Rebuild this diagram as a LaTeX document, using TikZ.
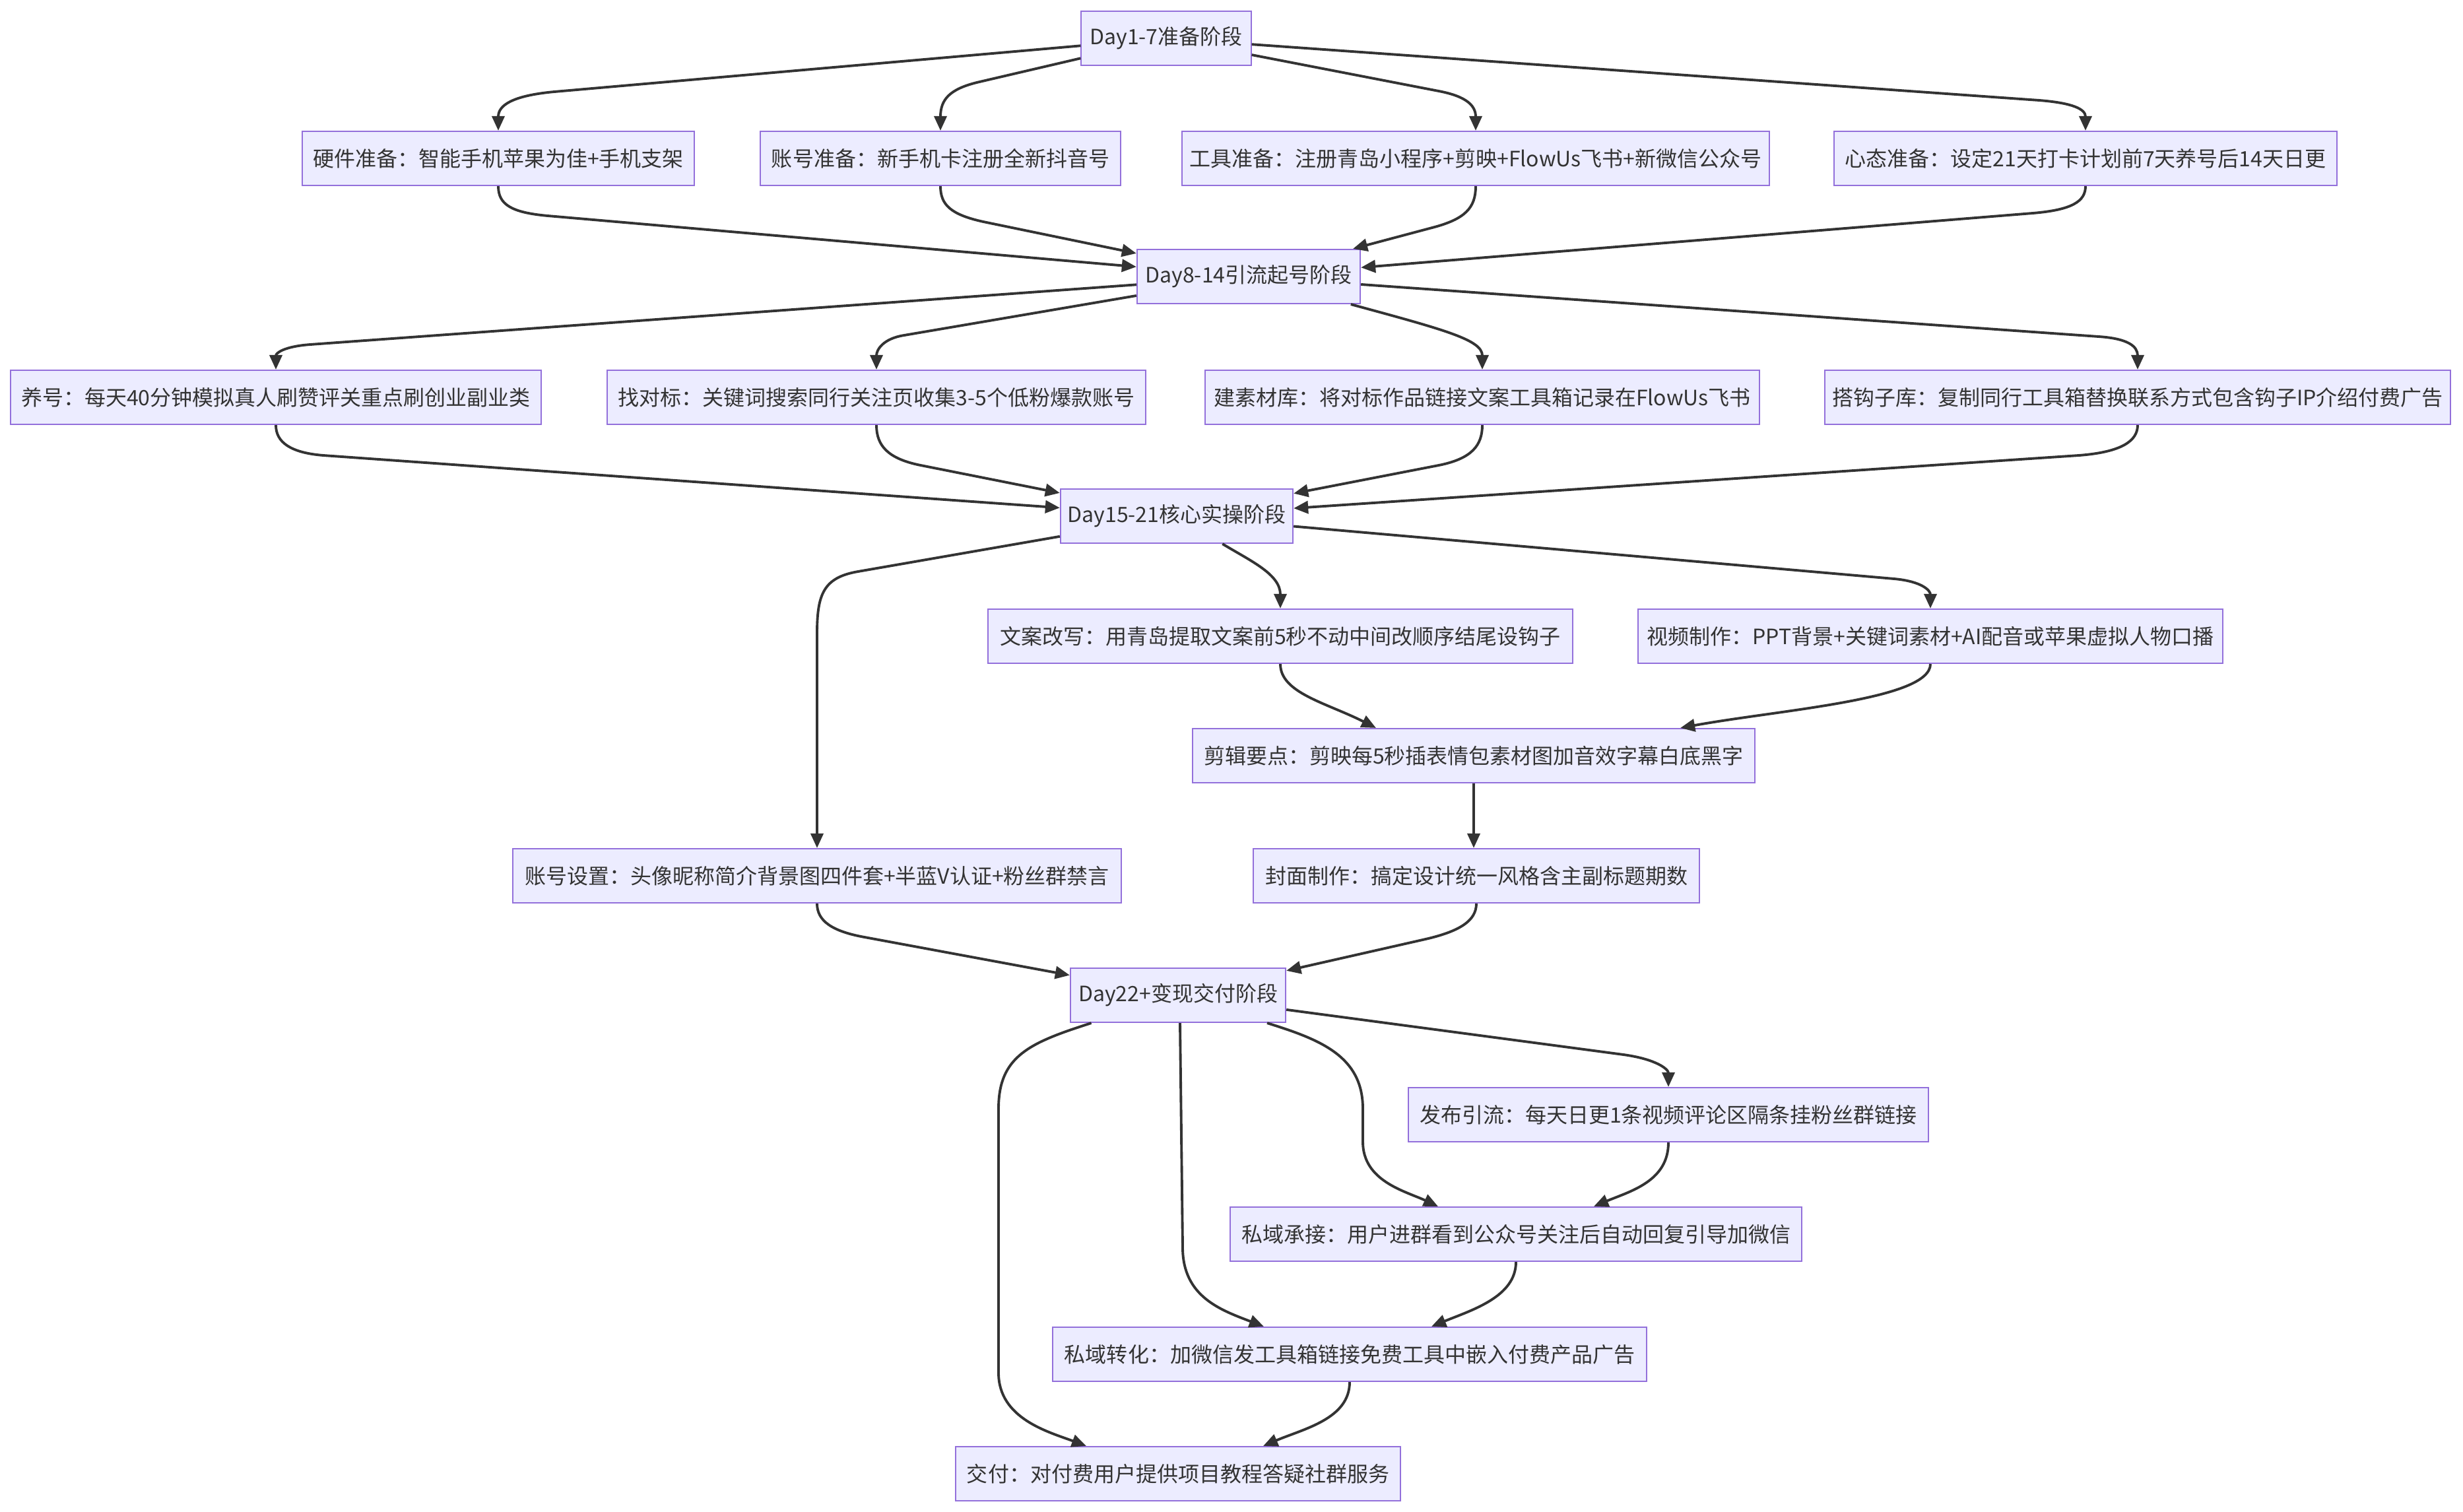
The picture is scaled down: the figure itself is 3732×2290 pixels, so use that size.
\documentclass[tikz,border=0pt]{standalone}
\usepackage{fontspec}
\setmainfont{Noto Sans CJK SC}
\usetikzlibrary{arrows.meta}
\definecolor{nodefill}{HTML}{ECECFF}
\definecolor{nodeborder}{HTML}{9370DB}
\definecolor{linec}{HTML}{333333}
\begin{document}
\begin{tikzpicture}[x=0.01cm,y=-0.01cm,
  box/.style={draw=nodeborder, fill=nodefill, line width=0.6pt, minimum height=0.82cm,
    inner xsep=0.1cm, inner ysep=0pt, text=linec, font=\fontsize{9.1}{11}\selectfont, anchor=center},
  edge/.style={draw=linec, line width=1.1pt, -{Triangle[length=0.22cm,width=0.19cm]}}]
\fill[white] (0,0) rectangle (3732,2290);
\useasboundingbox (0,0) rectangle (3732,2290);

% nodes
\node[box, minimum width=2.57cm] (d1) at (1767,58) {Day1-7准备阶段};
\node[box, minimum width=5.94cm] (hw) at (755,240) {硬件准备：智能手机苹果为佳+手机支架};
\node[box, minimum width=5.45cm] (acc) at (1425,240) {账号准备：新手机卡注册全新抖音号};
\node[box, minimum width=8.89cm] (tool) at (2236,240) {工具准备：注册青岛小程序+剪映+FlowUs飞书+新微信公众号};
\node[box, minimum width=7.61cm] (mind) at (3160,240) {心态准备：设定21天打卡计划前7天养号后14天日更};
\node[box, minimum width=3.38cm] (d2) at (1892,419) {Day8-14引流起号阶段};
\node[box, minimum width=8.03cm] (yang) at (418,602) {养号：每天40分钟模拟真人刷赞评关重点刷创业副业类};
\node[box, minimum width=8.16cm] (dui) at (1328,602) {找对标：关键词搜索同行关注页收集3-5个低粉爆款账号};
\node[box, minimum width=8.40cm] (jian) at (2246,602) {建素材库：将对标作品链接文案工具箱记录在FlowUs飞书};
\node[box, minimum width=9.48cm] (gou) at (3239,602) {搭钩子库：复制同行工具箱替换联系方式包含钩子IP介绍付费广告};
\node[box, minimum width=3.52cm] (d3) at (1783,782) {Day15-21核心实操阶段};
\node[box, minimum width=8.85cm] (wa) at (1940,964) {文案改写：用青岛提取文案前5秒不动中间改顺序结尾设钩子};
\node[box, minimum width=8.86cm] (sp) at (2925,964) {视频制作：PPT背景+关键词素材+AI配音或苹果虚拟人物口播};
\node[box, minimum width=8.51cm] (jj) at (2233,1145) {剪辑要点：剪映每5秒插表情包素材图加音效字幕白底黑字};
\node[box, minimum width=9.21cm] (zhsz) at (1238,1327) {账号设置：头像昵称简介背景图四件套+半蓝V认证+粉丝群禁言};
\node[box, minimum width=6.75cm] (fm) at (2237,1327) {封面制作：搞定设计统一风格含主副标题期数};
\node[box, minimum width=3.26cm] (d4) at (1785,1508) {Day22+变现交付阶段};
\node[box, minimum width=7.88cm] (fb) at (2528,1689) {发布引流：每天日更1条视频评论区隔条挂粉丝群链接};
\node[box, minimum width=8.66cm] (sycj) at (2297,1870) {私域承接：用户进群看到公众号关注后自动回复引导加微信};
\node[box, minimum width=8.99cm] (syzh) at (2045,2052) {私域转化：加微信发工具箱链接免费工具中嵌入付费产品广告};
\node[box, minimum width=6.74cm] (jf) at (1785,2233) {交付：对付费用户提供项目教程答疑社群服务};

% edges: stage 1
\draw[edge] (d1) -- (840,139) .. controls (775,145) and (755,160) .. (hw.north);
\draw[edge] (d1) -- (1480,125) .. controls (1440,135) and (1425,150) .. (acc.north);
\draw[edge] (d1) -- (2180,138) .. controls (2222,146) and (2236,160) .. (tool.north);
\draw[edge] (d1) -- (3090,152) .. controls (3140,156) and (3160,165) .. (mind.north);
\draw[edge] (hw.south) .. controls (755,310) and (775,322) .. (830,327) -- (d2);
\draw[edge] (acc.south) .. controls (1425,310) and (1440,325) .. (1490,336) -- (d2);
\draw[edge] (tool.south) .. controls (2236,315) and (2220,332) .. (2170,345) -- (d2);
\draw[edge] (mind.south) .. controls (3160,305) and (3140,318) .. (3080,323) -- (d2);
% stage 2
\draw[edge] (d2) -- (470,522) .. controls (430,525) and (418,535) .. (yang.north);
\draw[edge] (d2) -- (1370,508) .. controls (1338,513) and (1328,530) .. (dui.north);
\draw[edge] (d2) .. controls (2190,500) and (2246,515) .. (jian.north);
\draw[edge] (d2) -- (3180,510) .. controls (3225,513) and (3239,525) .. (gou.north);
\draw[edge] (yang.south) .. controls (418,670) and (440,686) .. (490,690) -- (d3);
\draw[edge] (dui.south) .. controls (1328,675) and (1345,695) .. (1395,705) -- (d3);
\draw[edge] (jian.south) .. controls (2246,675) and (2230,695) .. (2180,705) -- (d3);
\draw[edge] (gou.south) .. controls (3239,668) and (3215,685) .. (3150,690) -- (d3);
% stage 3
\draw[edge] (d3) -- (1300,866) .. controls (1248,875) and (1238,900) .. (1238,960) -- (zhsz.north);
\draw[edge] (d3) .. controls (1895,850) and (1940,870) .. (wa.north);
\draw[edge] (d3) -- (2870,877) .. controls (2913,881) and (2925,895) .. (sp.north);
\draw[edge] (wa.south) .. controls (1940,1050) and (2010,1065) .. ([xshift=-1.48cm]jj.north);
\draw[edge] (sp.south) .. controls (2925,1060) and (2700,1075) .. ([xshift=3.13cm]jj.north);
\draw[edge] (jj.south) -- (jj.south |- fm.north);
\draw[edge] (zhsz.south) .. controls (1238,1395) and (1260,1411) .. (1310,1420) -- (d4);
\draw[edge] (fm.south) .. controls (2237,1395) and (2212,1411) .. (2160,1423) -- (d4);
% stage 4
\draw[edge] (d4) -- (2460,1598) .. controls (2510,1605) and (2528,1620) .. (fb.north);
\draw[edge] (d4) .. controls (2000,1575) and (2065,1600) .. (2065,1680) -- (2065,1730)
  .. controls (2065,1790) and (2130,1805) .. ([xshift=-1.18cm]sycj.north);
\draw[edge] ([xshift=0.03cm]d4.south) -- (1792,1890) .. controls (1792,1965) and (1850,1985) .. ([xshift=-1.30cm]syzh.north);
\draw[edge] (d4) .. controls (1560,1580) and (1513,1600) .. (1513,1680) -- (1513,2080)
  .. controls (1513,2150) and (1590,2170) .. ([xshift=-1.39cm]jf.north);
\draw[edge] (fb.south) .. controls (2528,1790) and (2470,1805) .. ([xshift=1.18cm]sycj.north);
\draw[edge] (sycj.south) .. controls (2297,1965) and (2230,1985) .. ([xshift=1.24cm]syzh.north);
\draw[edge] (syzh.south) .. controls (2045,2150) and (1975,2165) .. ([xshift=1.29cm]jf.north);
\end{tikzpicture}
\end{document}
